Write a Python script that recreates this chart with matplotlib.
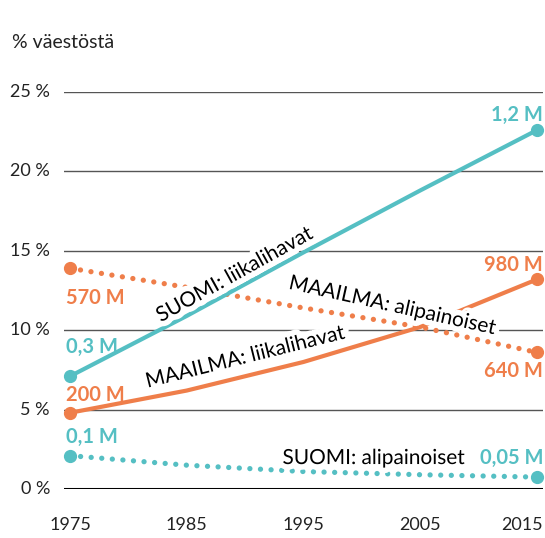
import matplotlib
matplotlib.use("Agg")
import matplotlib.pyplot as plt
import matplotlib.patheffects as pe

years = [1975, 1985, 1995, 2005, 2015]
fin_obese = [7.1, 10.9, 14.9, 18.8, 22.6]
world_obese = [4.8, 6.2, 8.0, 10.2, 13.2]
world_under = [13.9, 12.7, 11.4, 10.2, 8.6]
fin_under = [2.1, 1.5, 1.1, 0.9, 0.75]

yticks = [0, 5, 10, 15, 20, 25]
ytick_labels = ["0 %", "5 %", "10 %", "15 %", "20 %", "25 %"]
xtick_labels = ["1975", "1985", "1995", "2005", "2015"]

start_labels = {"fin_obese": "0,3 M", "world_obese": "200 M", "world_under": "570 M", "fin_under": "0,1 M"}
end_labels = {"fin_obese": "1,2 M", "world_obese": "980 M", "world_under": "640 M", "fin_under": "0,05 M"}

TEAL = "#55bfc3"
ORANGE = "#ef7e4a"
FONT = "Lato"

W, H = 545, 538
PX_YR = 11.675
PX_PCT = 15.88
fig = plt.figure(figsize=(W / 100, H / 100), dpi=100)
ax = fig.add_axes([64 / W, 1 - 489 / H, (543 - 64) / W, (489 - 92) / H])
ax.set_xlim(1975 - 6 / PX_YR, 2015 + 6 / PX_YR)
ax.set_ylim(0, 25)
ax.axis("off")

for v in yticks[1:]:
    ax.axhline(v, color="#555555", lw=1.0, zorder=1)
ax.axhline(0, color="black", lw=2.2, zorder=1)

for v, lab in zip(yticks, ytick_labels):
    ax.text(1975 - 20 / PX_YR, v, lab, ha="right", va="center",
            fontsize=13, family=FONT, color="#222222")
for i, (x, lab) in enumerate(zip(years, xtick_labels)):
    if i == len(years) - 1:
        ax.text(2015 + 6 / PX_YR, -2.25, lab, ha="right", va="center",
                fontsize=13, family=FONT, color="#222222")
    else:
        ax.text(x, -2.25, lab, ha="center", va="center", fontsize=13,
                family=FONT, color="#222222")

fig.text(12 / W, 1 - 43 / H, "% väestöstä", ha="left", va="center",
         fontsize=14, family=FONT, color="#222222")

solid_kw = dict(lw=3.0, solid_capstyle="round", marker="o", markersize=8.5,
                markevery=[0, -1], clip_on=False, zorder=3)
dot_kw = dict(lw=3.8, linestyle=(0, (0.01, 2.0)), dash_capstyle="round",
              clip_on=False, zorder=3)

ax.plot(years, world_under, color=ORANGE, **dot_kw)
ax.plot([years[0], years[-1]], [world_under[0], world_under[-1]], "o",
        color=ORANGE, markersize=8.5, clip_on=False, zorder=3)
ax.plot(years, fin_under, color=TEAL, **dot_kw)
ax.plot([years[0], years[-1]], [fin_under[0], fin_under[-1]], "o",
        color=TEAL, markersize=8.5, clip_on=False, zorder=3)
ax.plot(years, world_obese, color=ORANGE, **solid_kw)
ax.plot(years, fin_obese, color=TEAL, **solid_kw)

halo = [pe.withStroke(linewidth=8, foreground="white")]
lab_kw = dict(fontsize=15, family=FONT, color="black", ha="center",
              va="center", zorder=5, path_effects=halo, rotation_mode="anchor")
ax.text(1989.1, 13.5, "SUOMI: liikalihavat", rotation=29, **lab_kw)
ax.text(1990.0, 8.3, "MAAILMA: liikalihavat", rotation=14, **lab_kw)
ax.text(2002.6, 11.55, "MAAILMA: alipainoiset", rotation=-12.5, **lab_kw)
ax.text(2001.0, 1.95, "SUOMI: alipainoiset", rotation=0, **lab_kw)

val_kw = dict(fontsize=14.5, family=FONT, fontweight="bold", va="center", zorder=5)
x0 = 1975 - 4 / PX_YR
ax.text(x0, (489 - 298) / PX_PCT, start_labels["world_under"], color=ORANGE, ha="left", **val_kw)
ax.text(x0, (489 - 347) / PX_PCT, start_labels["fin_obese"], color=TEAL, ha="left", **val_kw)
ax.text(x0, (489 - 395) / PX_PCT, start_labels["world_obese"], color=ORANGE, ha="left", **val_kw)
ax.text(x0, (489 - 437) / PX_PCT, start_labels["fin_under"], color=TEAL, ha="left", **val_kw)
x1 = 2015 + 6 / PX_YR
ax.text(x1, (489 - 115) / PX_PCT, end_labels["fin_obese"], color=TEAL, ha="right", **val_kw)
ax.text(x1, (489 - 265) / PX_PCT, end_labels["world_obese"], color=ORANGE, ha="right", **val_kw)
ax.text(x1, (489 - 371) / PX_PCT, end_labels["world_under"], color=ORANGE, ha="right", **val_kw)
ax.text(x1, (489 - 458) / PX_PCT, end_labels["fin_under"], color=TEAL, ha="right", **val_kw)

fig.savefig("out.png", dpi=100, facecolor="white")
